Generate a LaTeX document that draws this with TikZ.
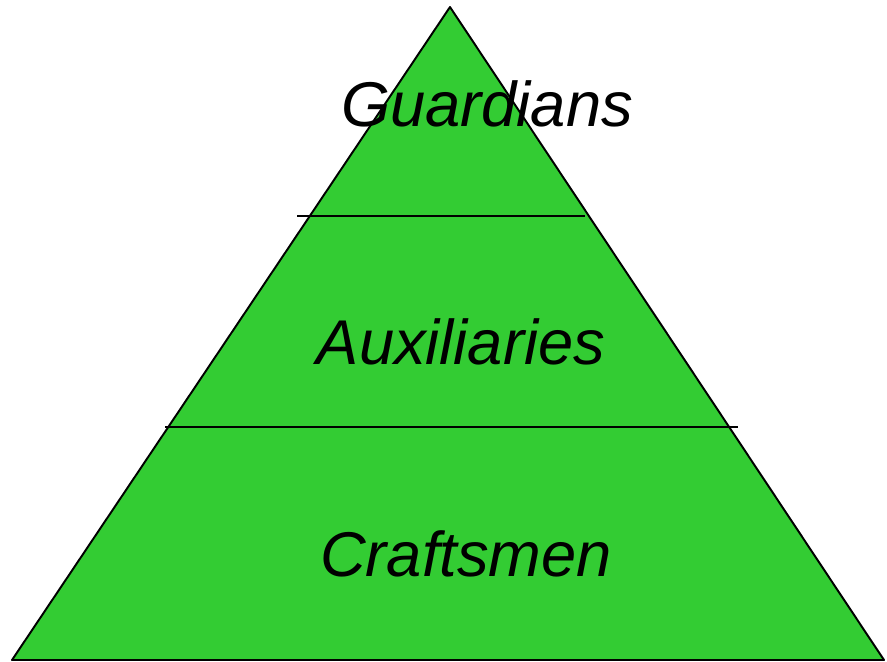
\documentclass[tikz,border=0pt]{standalone}
\usepackage{fontspec}
\setmainfont{Liberation Sans}
\definecolor{pyramide}{HTML}{33CC33}
\begin{document}
\begin{tikzpicture}[x=0.02cm,y=-0.02cm]
\tikzset{etage/.style={font=\fontsize{36}{40}\selectfont\itshape,anchor=base,inner sep=0pt}}
\useasboundingbox (0,0) rectangle (887,662);
\coordinate (sommet) at (450,7);%pointe
\coordinate (bg) at (12,660);%base gauche
\coordinate (bd) at (884,660);%base droite
\fill[color=pyramide] (sommet) -- (bg) -- (bd) -- cycle;
\draw[line width=1.1pt,line join=round] (sommet) -- (bg) -- (bd) -- cycle;
\coordinate (l1g) at (297,216);%premier trait
\coordinate (l1d) at (585,216);
\coordinate (l2g) at (165,427);%second trait
\coordinate (l2d) at (738,427);
\draw[line width=1.1pt] (l1g) -- (l1d);
\draw[line width=1.1pt] (l2g) -- (l2d);
\node[etage] (gardiens) at (487,127){Guardians};
\node[etage] (auxiliaires) at (461,365){Auxiliaries};
\node[etage] (artisans) at (466,577){Craftsmen};
\end{tikzpicture}
\end{document}
